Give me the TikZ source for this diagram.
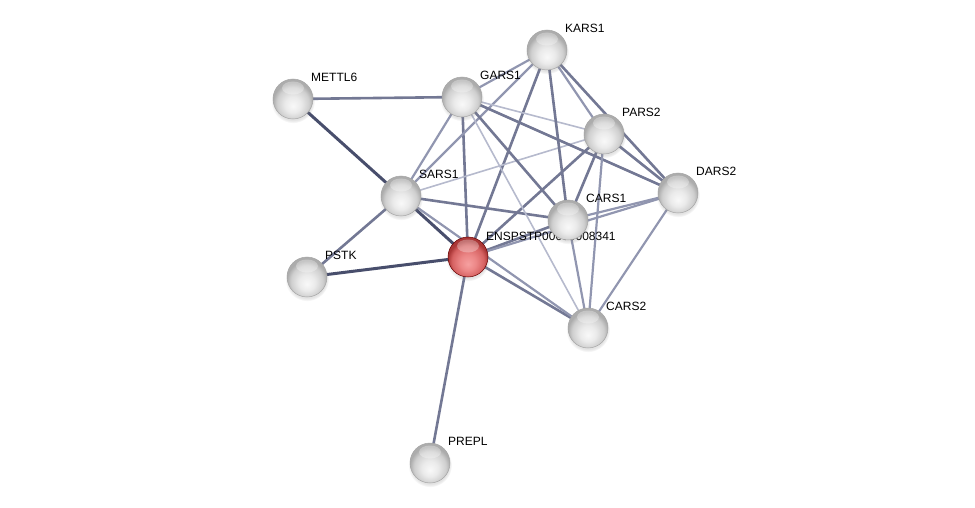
\documentclass[tikz,border=0pt]{standalone}
\usepackage{fontspec}
\setmainfont{Liberation Sans}
\usetikzlibrary{calc,backgrounds,shadows}
\definecolor{edark}{RGB}{72,78,108}
\definecolor{emed}{RGB}{115,120,148}
\definecolor{emlight}{RGB}{145,150,176}
\definecolor{elight}{RGB}{182,186,205}
\definecolor{rA}{RGB}{246,160,160}
\definecolor{rB}{RGB}{236,135,135}
\definecolor{rC}{RGB}{214,98,98}
\definecolor{rD}{RGB}{170,55,55}
\pgfdeclareradialshading{graysph}{\pgfpoint{0bp}{-9bp}}{color(0bp)=(gray!5); color(10bp)=(gray!16); color(20bp)=(gray!38); color(25bp)=(gray!65); color(50bp)=(gray!65)}
\pgfdeclareradialshading{redsph}{\pgfpoint{0bp}{-9bp}}{color(0bp)=(rA); color(10bp)=(rB); color(20bp)=(rC); color(25bp)=(rD); color(50bp)=(rD)}
\tikzset{
  gloss/.style={path picture={\fill[white,opacity=0.3] ($(path picture bounding box.center)+(0,-11)$) ellipse (11pt and 6.5pt);}},
  sph/.style={circle, minimum size=40pt, inner sep=0pt, draw=gray!70, line width=0.5pt,
    shading=graysph, gloss, circular drop shadow={shadow xshift=0pt, shadow yshift=-2pt, opacity=0.22}},
  sphred/.style={sph, shading=redsph, draw=red!40!black},
  lbl/.style={anchor=west, inner sep=0pt, font=\fontsize{12}{14}\selectfont},
  edgedark/.style={draw=edark, line width=3pt},
  edgemed/.style={draw=emed, line width=2.6pt},
  edgeml/.style={draw=emlight, line width=2.2pt},
  edgelight/.style={draw=elight, line width=1.6pt}
}
\begin{document}
\begin{tikzpicture}[x=1pt,y=-1pt]
\useasboundingbox (0,0) rectangle (975,508);
% spheres and labels
\node[sph] (METTL6) at (293,99) {};
\node[lbl] (lMETTL6) at ($(METTL6)+(18,-22)$) {METTL6};
\node[sph] (GARS1) at (462,97) {};
\node[lbl] (lGARS1) at ($(GARS1)+(18,-22)$) {GARS1};
\node[sph] (KARS1) at (547,50) {};
\node[lbl] (lKARS1) at ($(KARS1)+(18,-22)$) {KARS1};
\node[sph] (PARS2) at (604,134) {};
\node[lbl] (lPARS2) at ($(PARS2)+(18,-22)$) {PARS2};
\node[sph] (DARS2) at (678,193) {};
\node[lbl] (lDARS2) at ($(DARS2)+(18,-22)$) {DARS2};
\node[sph] (SARS1) at (401,196) {};
\node[lbl] (lSARS1) at ($(SARS1)+(18,-22)$) {SARS1};
\node[sph] (PSTK) at (307,277) {};
\node[lbl] (lPSTK) at ($(PSTK)+(18,-22)$) {PSTK};
\node[sph] (PREPL) at (430,463) {};
\node[lbl] (lPREPL) at ($(PREPL)+(18,-22)$) {PREPL};
\node[sph] (CARS2) at (588,328) {};
\node[lbl] (lCARS2) at ($(CARS2)+(18,-22)$) {CARS2};
\node[sphred] (ENSP) at (468,257) {};
\node[lbl] (lENSP) at ($(ENSP)+(18,-21)$) {ENSPSTP00000008341};
\node[sph] (CARS1) at (568,220) {};
\node[lbl] (lCARS1) at ($(CARS1)+(18,-22)$) {CARS1};
% edges
\begin{pgfonlayer}{background}
\draw[edgemed] (METTL6.center) -- (GARS1.center);
\draw[edgemed] (PSTK.center) -- (SARS1.center);
\draw[edgemed] (PREPL.center) -- (ENSP.center);
\draw[edgemed] (ENSP.center) -- (GARS1.center);
\draw[edgemed] (ENSP.center) -- (KARS1.center);
\draw[edgemed] (ENSP.center) -- (PARS2.center);
\draw[edgemed] (ENSP.center) -- (CARS1.center);
\draw[edgeml] (ENSP.center) -- (DARS2.center);
\draw[edgemed] (ENSP.center) -- (CARS2.center);
\draw[edgeml] (SARS1.center) -- (GARS1.center);
\draw[edgeml] (SARS1.center) -- (KARS1.center);
\draw[edgemed] (SARS1.center) -- (CARS1.center);
\draw[edgeml] (SARS1.center) -- (CARS2.center);
\draw[edgelight] (SARS1.center) -- (PARS2.center);
\draw[edgeml] (GARS1.center) -- (KARS1.center);
\draw[edgelight] (GARS1.center) -- (PARS2.center);
\draw[edgemed] (GARS1.center) -- (DARS2.center);
\draw[edgemed] (GARS1.center) -- (CARS1.center);
\draw[edgelight] (GARS1.center) -- (CARS2.center);
\draw[edgeml] (KARS1.center) -- (PARS2.center);
\draw[edgemed] (KARS1.center) -- (DARS2.center);
\draw[edgemed] (KARS1.center) -- (CARS1.center);
\draw[edgemed] (PARS2.center) -- (DARS2.center);
\draw[edgemed] (PARS2.center) -- (CARS1.center);
\draw[edgeml] (PARS2.center) -- (CARS2.center);
\draw[edgeml] (DARS2.center) -- (CARS1.center);
\draw[edgeml] (DARS2.center) -- (CARS2.center);
\draw[edgeml] (CARS1.center) -- (CARS2.center);
\draw[edgedark] (METTL6.center) -- (SARS1.center);
\draw[edgedark] (SARS1.center) -- (ENSP.center);
\draw[edgedark] (PSTK.center) -- (ENSP.center);
\end{pgfonlayer}
\end{tikzpicture}
\end{document}
